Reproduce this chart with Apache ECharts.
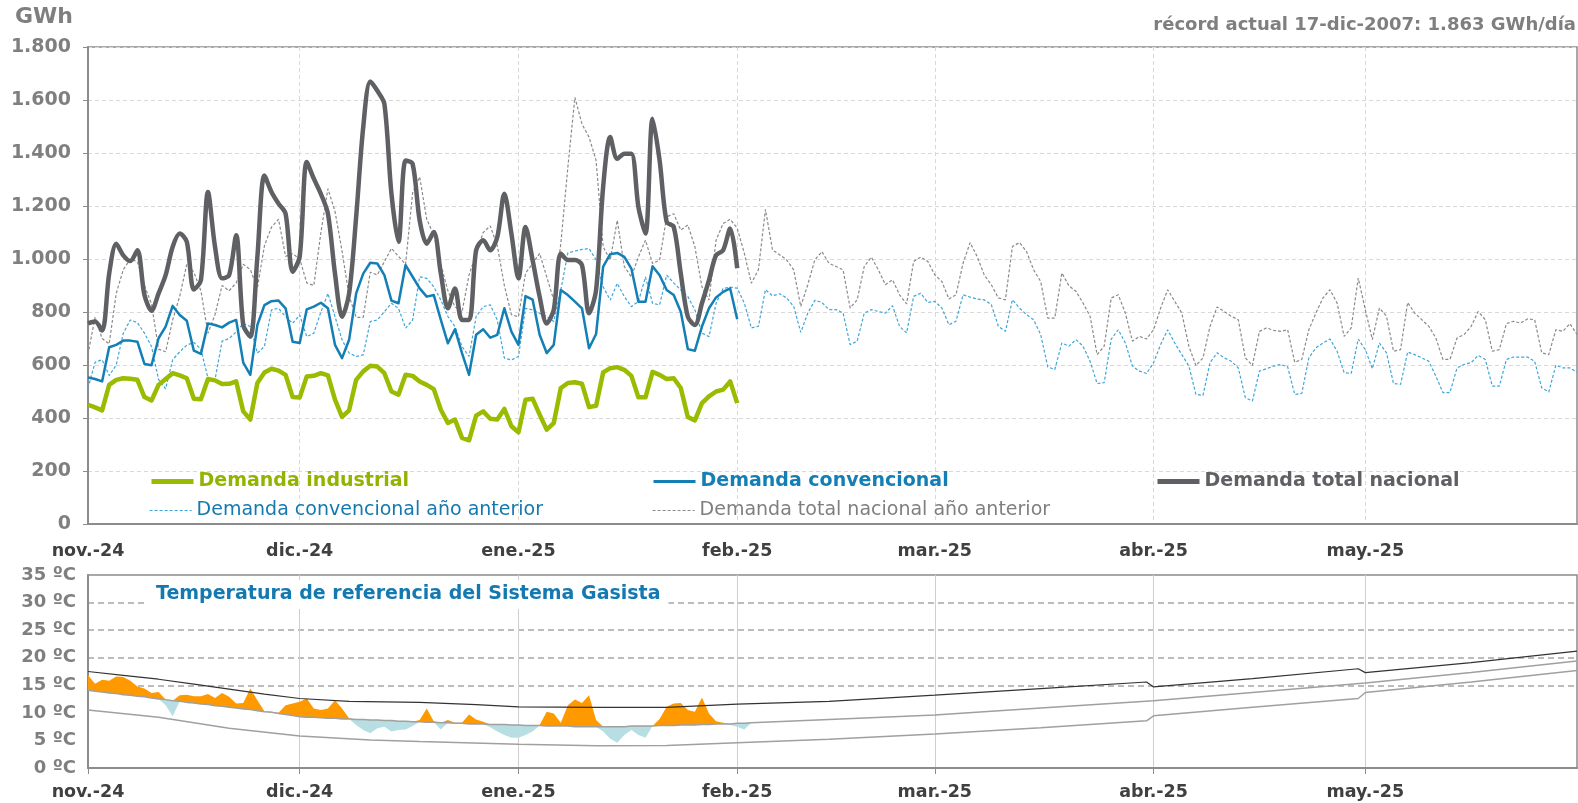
<!DOCTYPE html>
<html>
<head>
<meta charset="utf-8">
<title>Demanda de gas</title>
<script src="https://cdn.jsdelivr.net/npm/echarts@6.0.0/dist/echarts.min.js"></script>
<style>
  html, body { margin: 0; padding: 0; background: #fff; }
  #chart { width: 1578px; height: 803px; }
</style>
</head>
<body>
<div id="chart"></div>
<script>
// eje de días: 1-nov-2024 a 31-may-2025
const days = [];
for (let t = Date.UTC(2024, 10, 1); t <= Date.UTC(2025, 4, 31); t += 86400000) {
  days.push(new Date(t).toISOString().slice(0, 10));
}
const monthNames = { '11': 'nov.', '12': 'dic.', '01': 'ene.', '02': 'feb.', '03': 'mar.', '04': 'abr.', '05': 'may.' };

// demanda actual (GWh), 1-nov a 1-feb
const demandaTotal = [
  757, 764, 730, 945, 1058, 1014, 992, 1033, 864, 805, 870, 939, 1046, 1096, 1065, 885, 920, 1253, 1046, 927, 939, 1090, 751, 707, 1008, 1315, 1253, 1209, 1171, 952,
  1010, 1366, 1303, 1246, 1171, 945, 782, 870, 1159, 1497, 1670, 1635, 1585, 1246, 1065, 1372, 1359, 1146, 1058, 1102, 945, 814, 889, 770, 770, 1033, 1071, 1033, 1083, 1246, 1096,
  927, 1121, 996, 858, 757, 808, 1021, 996, 996, 977, 795, 883, 1272, 1460, 1378, 1397, 1397, 1196, 1096, 1529, 1372, 1140, 1121, 945, 782, 751, 833, 920, 1014, 1033, 1115,
  965
];
const demandaConvencional = [
  553, 547, 538, 667, 676, 692, 692, 688, 604, 599, 701, 745, 823, 789, 767, 654, 642, 757, 751, 742, 760, 770, 609, 563, 751, 826, 841, 843, 814, 688,
  683, 810, 820, 835, 814, 676, 626, 695, 870, 945, 986, 983, 939, 843, 833, 977, 933, 889, 858, 864, 770, 682, 735, 645, 563, 714, 735, 703, 714, 814, 726,
  676, 860, 847, 714, 645, 676, 883, 864, 839, 814, 663, 717, 971, 1018, 1023, 1008, 964, 839, 839, 973, 939, 883, 864, 801, 660, 654, 745, 814, 855, 876, 889,
  773
];
const demandaIndustrial = [
  450, 440, 429, 525, 544, 550, 548, 544, 479, 466, 525, 547, 569, 561, 550, 473, 471, 547, 542, 528, 529, 538, 425, 394, 532, 572, 586, 579, 563, 479,
  477, 557, 559, 569, 561, 469, 404, 429, 544, 576, 597, 594, 569, 500, 488, 563, 559, 538, 525, 509, 431, 381, 394, 325, 316, 409, 425, 397, 394, 434, 369,
  346, 469, 473, 413, 356, 381, 513, 532, 535, 529, 441, 446, 572, 588, 592, 582, 559, 478, 478, 574, 563, 547, 550, 513, 404, 391, 456, 482, 500, 507, 538,
  456
];

// año anterior, nov a may
const totalAnterior = [
  640, 780, 700, 680, 870, 960, 1000, 990, 900, 830, 660, 650, 770, 860, 980, 950, 880, 720, 790, 900, 880, 910, 980, 960, 890, 1050, 1120, 1150, 1010, 1020,
  1000, 910, 900, 1100, 1265, 1180, 1030, 860, 780, 780, 950, 940, 990, 1040, 1010, 980, 1250, 1310, 1150, 1090, 980, 880, 820, 800, 940, 1020, 1100, 1125, 1050, 900, 790,
  782, 946, 983, 1021, 933, 845, 1058, 1347, 1610, 1509, 1460, 1372, 1046, 996, 1146, 971, 933, 1008, 1071, 983, 996, 1159, 1171, 1109, 1128, 1046, 895, 845, 1071, 1134, 1150,
  1116, 1022, 909, 959, 1187, 1034, 1016, 997, 959, 821, 903, 997, 1028, 984, 972, 959, 815, 846, 972, 1007, 959, 903, 922, 865, 831, 991, 1007, 991,
  940, 915, 849, 865, 984, 1062, 1009, 940, 903, 853, 846, 1047, 1062, 1028, 959, 915, 777, 777, 947, 899, 878, 834, 784, 639, 671, 853, 865, 796, 690, 708, 698,
  733, 815, 884, 840, 796, 671, 598, 627, 746, 819, 802, 784, 771, 627, 598, 727, 740, 731, 727, 733, 610, 621, 733, 796, 853, 884, 834, 708, 740, 928,
  809, 696, 815, 784, 652, 658, 836, 796, 771, 746, 702, 621, 621, 702, 715, 746, 802, 771, 652, 658, 756, 765, 758, 774, 771, 646, 639, 733, 727, 756, 715
];
const convencionalAnterior = [
  513, 610, 620, 560, 600, 720, 770, 760, 720, 670, 545, 510, 620, 650, 675, 685, 660, 550, 545, 690, 700, 725, 757, 745, 645, 670, 808, 814, 783, 757,
  789, 707, 720, 800, 870, 783, 695, 645, 632, 638, 764, 770, 801, 833, 814, 739, 770, 933, 927, 895, 845, 783, 745, 670, 632, 783, 820, 827, 770, 626, 619,
  632, 814, 808, 795, 783, 764, 883, 1023, 1030, 1036, 1040, 996, 895, 845, 908, 858, 820, 840, 932, 833, 827, 939, 910, 883, 858, 808, 720, 707, 833, 889, 894,
  890, 834, 740, 746, 884, 861, 869, 853, 821, 723, 796, 844, 836, 809, 809, 796, 677, 690, 796, 809, 802, 796, 824, 746, 721, 859, 871, 836,
  840, 815, 752, 765, 865, 856, 849, 846, 828, 746, 727, 846, 815, 790, 771, 715, 593, 583, 683, 671, 696, 671, 614, 530, 533, 698, 733, 683, 596, 577, 568,
  609, 677, 733, 683, 639, 596, 489, 485, 609, 646, 627, 614, 589, 477, 464, 577, 586, 596, 602, 593, 489, 493, 627, 665, 683, 698, 652, 571, 568, 698,
  658, 586, 683, 646, 530, 527, 649, 639, 627, 614, 558, 496, 496, 589, 602, 609, 636, 621, 520, 520, 621, 630, 630, 630, 614, 514, 498, 599, 589, 589, 573
];

// temperatura real (ºC), 1-nov a 3-feb
const tempReal = [
  16.8, 15.3, 16.0, 15.8, 16.6, 16.5, 15.8, 14.8, 14.4, 13.6, 13.8, 11.4, 9.4, 13.2, 13.3, 13.0, 13.0, 13.4, 12.7, 13.6, 12.9, 11.7, 11.8, 14.4, 12.3, 10.3, 10.2, 10.0, 11.4, 11.7,
  12.0, 12.6, 10.8, 10.5, 10.8, 12.3, 10.8, 9.0, 7.8, 6.9, 6.3, 7.2, 7.5, 6.6, 6.9, 7.0, 7.6, 8.7, 10.8, 8.5, 7.0, 8.7, 8.2, 8.2, 9.7, 8.8, 8.4, 7.4, 6.6, 6.0, 5.5,
  5.5, 6.0, 6.6, 7.8, 10.2, 9.9, 8.2, 11.4, 12.4, 11.8, 13.2, 8.7, 6.6, 5.3, 4.6, 6.0, 6.9, 6.0, 5.5, 7.6, 8.9, 11.1, 11.7, 11.8, 10.5, 10.2, 12.8, 9.9, 8.5, 8.2, 7.8,
  7.5, 7.0, 8.0
];
// temperatura media de referencia, diaria mientras hay dato real
const tempMediaDiaria = [
  14.1, 13.9, 13.8, 13.6, 13.5, 13.3, 13.2, 13.0, 12.9, 12.7, 12.5, 12.4, 12.2, 12.1, 11.9, 11.8, 11.6, 11.5, 11.3, 11.2, 11.0, 10.9, 10.7, 10.6, 10.4, 10.2, 10.1, 9.9, 9.7, 9.5,
  9.3, 9.2, 9.2, 9.1, 9.0, 9.0, 8.9, 8.9, 8.8, 8.8, 8.7, 8.7, 8.6, 8.6, 8.5, 8.5, 8.4, 8.4, 8.3, 8.3, 8.2, 8.2, 8.1, 8.1, 8.0, 8.0, 8.0, 7.9, 7.9, 7.9, 7.8,
  7.8, 7.7, 7.7, 7.7, 7.6, 7.6, 7.6, 7.6, 7.5, 7.5, 7.5, 7.5, 7.5, 7.5, 7.5, 7.5, 7.6, 7.6, 7.6, 7.6, 7.7, 7.7, 7.7, 7.8, 7.8, 7.8, 7.9, 7.9, 8.0, 8.0, 8.0,
  8.1, 8.1, 8.2
];
const tempMediaResto = [
  ['2025-02-14', 8.8], ['2025-03-01', 9.6], ['2025-03-16', 10.9], ['2025-04-01', 12.2],
  ['2025-04-15', 13.7], ['2025-05-01', 15.4], ['2025-05-16', 17.3], ['2025-05-31', 19.4]
];
const tempSuperior = [
  ['2024-11-01', 17.5], ['2024-11-06', 16.8], ['2024-11-11', 16.1], ['2024-11-16', 15.2], ['2024-11-21', 14.3],
  ['2024-11-26', 13.4], ['2024-12-01', 12.6], ['2024-12-08', 12.1], ['2024-12-18', 11.9], ['2024-12-26', 11.5],
  ['2025-01-01', 11.1], ['2025-01-12', 11.0], ['2025-01-22', 11.0], ['2025-02-01', 11.6], ['2025-02-14', 12.1],
  ['2025-03-01', 13.2], ['2025-03-16', 14.4], ['2025-03-31', 15.6], ['2025-04-01', 14.7], ['2025-04-15', 16.2],
  ['2025-04-30', 18.0], ['2025-05-01', 17.3], ['2025-05-16', 19.1], ['2025-05-31', 21.2]
];
const tempInferior = [
  ['2024-11-01', 10.5], ['2024-11-11', 9.2], ['2024-11-21', 7.2], ['2024-12-01', 5.8], ['2024-12-11', 5.1],
  ['2024-12-18', 4.8], ['2025-01-01', 4.3], ['2025-01-12', 4.05], ['2025-01-22', 4.1], ['2025-02-01', 4.6],
  ['2025-02-14', 5.2], ['2025-03-01', 6.15], ['2025-03-16', 7.3], ['2025-03-31', 8.56], ['2025-04-01', 9.46],
  ['2025-04-15', 11.0], ['2025-04-30', 12.6], ['2025-05-01', 13.7], ['2025-05-16', 15.6], ['2025-05-31', 17.7]
];

const demandTicks = [0, 200, 400, 600, 800, 1000, 1200, 1400, 1600, 1800];
const tempTicks = [0, 5, 10, 15, 20, 25, 30, 35];

// relleno entre temperatura real y media (apilado)
const fillBase = tempReal.map((v, i) => Math.min(v, tempMediaDiaria[i]));
const fillCold = tempReal.map((v, i) => +(tempMediaDiaria[i] - fillBase[i]).toFixed(2));
const fillWarm = tempReal.map((v, i) => +Math.max(v - tempMediaDiaria[i], 0).toFixed(2));
const mediaLine = tempMediaDiaria.map((v, i) => [days[i], v]).concat(tempMediaResto);

const FONT = '"DejaVu Sans", Verdana, sans-serif';
const isMonthStart = (i, v) => v.slice(8) === '01';
const monthLabel = v => monthNames[v.slice(5, 7)] + '-' + v.slice(2, 4);
const thousands = v => String(v).replace(/\B(?=(\d{3})+(?!\d))/g, '.');

const chart = echarts.init(document.getElementById('chart'));

function legendItem(name, left, top, color, bold, lineWidth) {
  return {
    data: [name], left: left, top: top, padding: 0, itemWidth: 42, itemHeight: 14,
    selectedMode: false,
    itemStyle: { opacity: 0 },
    lineStyle: { width: lineWidth },
    textStyle: { fontFamily: FONT, fontSize: 19, fontWeight: bold ? 'bold' : 'normal', color: color }
  };
}

const option = {
  animation: false,
  backgroundColor: '#fff',
  title: [
    { text: 'GWh', left: 15, top: 6, padding: 0,
      textStyle: { fontFamily: FONT, fontSize: 22, fontWeight: 'bold', color: '#7f7f7f' } },
    { text: 'récord actual 17-dic-2007: 1.863 GWh/día', right: 2, top: 16, padding: 0,
      textStyle: { fontFamily: FONT, fontSize: 18, fontWeight: 'bold', color: '#7f7f7f' } },
    { text: 'Temperatura de referencia del Sistema Gasista', left: 148, top: 580, padding: [5, 8],
      backgroundColor: '#fff',
      textStyle: { fontFamily: FONT, fontSize: 19, fontWeight: 'bold', color: '#1479b0' } }
  ],
  legend: [
    legendItem('Demanda industrial', 149, 472, '#92b400', true, 5),
    legendItem('Demanda convencional', 652, 472, '#137fb5', true, 3),
    legendItem('Demanda total nacional', 1155, 472, '#5f6064', true, 5),
    legendItem('Demanda convencional año anterior', 149, 501, '#1479b0', false, 1.2),
    legendItem('Demanda total nacional año anterior', 652, 501, '#7f7f7f', false, 1.2)
  ],
  grid: [
    { left: 88, right: 1, top: 47, bottom: 279, show: true, borderColor: '#8c8c8c', borderWidth: 1.5, outerBoundsMode: 'none' },
    { left: 88, right: 1, top: 575, bottom: 35, show: true, borderColor: '#8c8c8c', borderWidth: 1.5, outerBoundsMode: 'none' }
  ],
  xAxis: [
    {
      type: 'category', gridIndex: 0, data: days, boundaryGap: false,
      axisLine: { lineStyle: { color: '#8c8c8c', width: 2 } },
      axisTick: { show: false },
      axisLabel: { interval: isMonthStart, formatter: monthLabel, margin: 18,
        fontFamily: FONT, fontSize: 17.5, fontWeight: 'bold', color: '#404040' },
      splitLine: { show: true, interval: isMonthStart, lineStyle: { color: '#d9d9d9', type: [4, 3], width: 1 } }
    },
    {
      type: 'category', gridIndex: 1, data: days, boundaryGap: false,
      axisLine: { lineStyle: { color: '#8c8c8c', width: 2 } },
      axisTick: { show: true, interval: isMonthStart, length: 6, lineStyle: { color: '#8c8c8c' } },
      axisLabel: { interval: isMonthStart, formatter: monthLabel, margin: 15,
        fontFamily: FONT, fontSize: 17.5, fontWeight: 'bold', color: '#404040' },
      splitLine: { show: true, interval: isMonthStart, lineStyle: { color: '#cfcfcf', width: 1 } }
    }
  ],
  yAxis: [
    {
      type: 'value', gridIndex: 0, min: demandTicks[0], max: demandTicks[demandTicks.length - 1], interval: 200,
      axisLine: { show: true, lineStyle: { color: '#8c8c8c', width: 2 } },
      axisTick: { show: true, length: 5, lineStyle: { color: '#8c8c8c' } },
      axisLabel: { margin: 17, formatter: thousands,
        fontFamily: FONT, fontSize: 19, fontWeight: 'bold', color: '#7f7f7f' },
      splitLine: { show: true, lineStyle: { color: '#d9d9d9', type: [4, 3], width: 1 } }
    },
    {
      type: 'value', gridIndex: 1, min: tempTicks[0], max: tempTicks[tempTicks.length - 1], interval: 5,
      axisLine: { show: true, lineStyle: { color: '#8c8c8c', width: 2 } },
      axisTick: { show: false },
      axisLabel: { margin: 12, formatter: v => v + ' ºC',
        fontFamily: FONT, fontSize: 18, fontWeight: 'bold', color: '#7f7f7f' },
      splitLine: { show: true, lineStyle: {
        // solo 15, 20, 25 y 30 llevan línea
        color: tempTicks.map(t => (t >= 15 && t <= 30) ? '#a6a6a6' : 'rgba(0,0,0,0)'),
        type: [6, 4], width: 1.5 } }
    }
  ],
  series: [
    { name: 'Demanda total nacional año anterior', type: 'line', data: totalAnterior, symbol: 'none',
      lineStyle: { color: '#8a8a8a', width: 1.2, type: [3, 2] }, itemStyle: { color: '#8a8a8a' } },
    { name: 'Demanda convencional año anterior', type: 'line', data: convencionalAnterior, symbol: 'none',
      lineStyle: { color: '#3ea6d8', width: 1.2, type: [3, 2] }, itemStyle: { color: '#3ea6d8' } },
    { name: 'Demanda industrial', type: 'line', data: demandaIndustrial, symbol: 'none',
      lineStyle: { color: '#99bb00', width: 4.5, join: 'round' }, itemStyle: { color: '#99bb00' } },
    { name: 'Demanda convencional', type: 'line', data: demandaConvencional, symbol: 'none',
      lineStyle: { color: '#137fb5', width: 2.5, join: 'round' }, itemStyle: { color: '#137fb5' } },
    { name: 'Demanda total nacional', type: 'line', data: demandaTotal, symbol: 'none', smooth: 0.3,
      lineStyle: { color: '#5f6064', width: 4.5 }, itemStyle: { color: '#5f6064' } },

    // temperatura
    { type: 'line', xAxisIndex: 1, yAxisIndex: 1, data: fillBase, stack: 'temp', stackStrategy: 'all',
      symbol: 'none', lineStyle: { opacity: 0 }, silent: true },
    { type: 'line', xAxisIndex: 1, yAxisIndex: 1, data: fillCold, stack: 'temp', stackStrategy: 'all',
      symbol: 'none', lineStyle: { opacity: 0 }, areaStyle: { color: '#b7dfe3', opacity: 1 }, silent: true },
    { type: 'line', xAxisIndex: 1, yAxisIndex: 1, data: fillWarm, stack: 'temp', stackStrategy: 'all',
      symbol: 'none', lineStyle: { opacity: 0 }, areaStyle: { color: '#ff9900', opacity: 1 }, silent: true },
    { type: 'line', xAxisIndex: 1, yAxisIndex: 1, data: tempInferior, symbol: 'none',
      lineStyle: { color: '#a0a0a0', width: 1.5 } },
    { type: 'line', xAxisIndex: 1, yAxisIndex: 1, data: mediaLine, symbol: 'none',
      lineStyle: { color: '#a0a0a0', width: 1.5 } },
    { type: 'line', xAxisIndex: 1, yAxisIndex: 1, data: tempSuperior, symbol: 'none',
      lineStyle: { color: '#333333', width: 1.2 } }
  ]
};

chart.setOption(option);
</script>
</body>
</html>
